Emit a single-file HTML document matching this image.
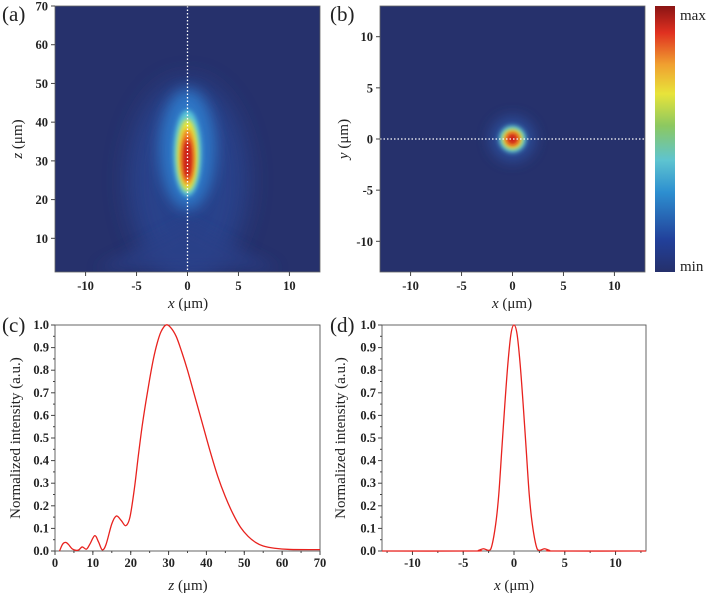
<!DOCTYPE html>
<html><head><meta charset="utf-8"><style>
html,body{margin:0;padding:0;background:#fff;width:708px;height:595px;overflow:hidden}
</style></head><body>
<svg id="fig" width="708" height="595" viewBox="0 0 708 595" xmlns="http://www.w3.org/2000/svg" font-family="'Liberation Serif', 'Times New Roman', serif">
<defs>
<filter id="b2" x="-50%" y="-50%" width="200%" height="200%"><feGaussianBlur stdDeviation="2.5"/></filter>
<filter id="b6" x="-50%" y="-50%" width="200%" height="200%"><feGaussianBlur stdDeviation="7"/></filter>
<filter id="b12" x="-50%" y="-50%" width="200%" height="200%"><feGaussianBlur stdDeviation="12"/></filter>
<linearGradient id="jet" x1="0" y1="1" x2="0" y2="0">
<stop offset="0" stop-color="#25306b"/><stop offset="0.12" stop-color="#22409a"/><stop offset="0.3" stop-color="#2d8fd0"/>
<stop offset="0.42" stop-color="#5ec4d0"/><stop offset="0.55" stop-color="#8cc860"/><stop offset="0.67" stop-color="#e8e43a"/>
<stop offset="0.78" stop-color="#f0a030"/><stop offset="0.9" stop-color="#e03020"/><stop offset="1" stop-color="#8a1414"/>
</linearGradient>
<clipPath id="ca"><rect x="55" y="6" width="265" height="266"/></clipPath>
<clipPath id="cb"><rect x="380" y="6" width="265" height="266"/></clipPath>
</defs>
<g id="root"></g>
</svg>
<script>
// ---- data ----
const zProfileZ=[1.2,2,2.8,3.5,4.5,5.5,6.3,7.2,8.3,9.2,10.5,11.5,12.5,13.5,15,16.2,17.5,18.7,19.8,21,22,23,24,25,26,27,28,29.3,30.5,32,33.5,35,37,39,41,43,45,47,49,51,53,55,58,62,70];
const zProfileI=[0,0.03,0.038,0.03,0.01,0.003,0.005,0.018,0.008,0.03,0.068,0.04,0.005,0.03,0.12,0.155,0.135,0.112,0.15,0.28,0.42,0.55,0.66,0.76,0.85,0.92,0.97,1.0,0.99,0.95,0.88,0.80,0.68,0.56,0.44,0.33,0.24,0.165,0.105,0.065,0.038,0.022,0.012,0.007,0.006];
const xProfileX=[-13,-4,-3.5,-3,-2.5,-2.2,-1.8,-1.5,-1.2,-0.9,-0.6,-0.3,0,0.3,0.6,0.9,1.2,1.5,1.8,2.2,2.5,3,3.5,4,13];
const xProfileI=[0,0,0.003,0.01,0.003,0.02,0.12,0.25,0.45,0.65,0.83,0.96,1.0,0.96,0.83,0.65,0.45,0.25,0.12,0.02,0.003,0.01,0.003,0,0];
const zTicks=[10,20,30,40,50,60,70];
const symTicks=[-10,-5,0,5,10];
const cZTicks=[0,10,20,30,40,50,60,70];
const intTicks=[0,0.1,0.2,0.3,0.4,0.5,0.6,0.7,0.8,0.9,1.0];

const NS="http://www.w3.org/2000/svg";
const root=document.getElementById('root');
const FONT="'Liberation Serif', 'Times New Roman', serif";
function mk(tag,attrs,parent){const e=document.createElementNS(NS,tag);for(const k in attrs)e.setAttribute(k,attrs[k]);
 if(tag==='text'){e.setAttribute('font-family',FONT);e.setAttribute('fill','#222');
  const c=attrs['class'];if(c==='tk'){e.setAttribute('font-size','12.5');e.setAttribute('font-weight','bold');}
  else if(c==='ttl'){e.setAttribute('font-size','15');}else if(c==='pl'){e.setAttribute('font-size','21');}}
 (parent||root).appendChild(e);return e;}
function lin(d0,d1,r0,r1){return v=>r0+(v-d0)/(d1-d0)*(r1-r0);}
function smooth(pts){let d=`M${pts[0][0]},${pts[0][1]}`;for(let i=0;i<pts.length-1;i++){const p0=pts[i-1]||pts[i],p1=pts[i],p2=pts[i+1],p3=pts[i+2]||p2;
d+=` C${p1[0]+(p2[0]-p0[0])/6},${p1[1]+(p2[1]-p0[1])/6} ${p2[0]-(p3[0]-p1[0])/6},${p2[1]-(p3[1]-p1[1])/6} ${p2[0]},${p2[1]}`;}return d;}

// ---- panel a ----
const ax=lin(-13,13,55,320), az=lin(70,1.3,6,272);
const ga=mk('g',{'clip-path':'url(#ca)'});
mk('rect',{x:55,y:6,width:265,height:266,fill:'#26316c'},ga);
mk('ellipse',{cx:ax(0),cy:az(25),rx:60,ry:100,fill:'#2c4a98',opacity:0.7,filter:'url(#b12)'},ga);
mk('path',{d:`M${ax(-9)},${az(2)} L${ax(0)},${az(14)} L${ax(9)},${az(2)} Z`,fill:'#2b3f88',opacity:0.7,filter:'url(#b6)'},ga);
mk('ellipse',{cx:ax(0),cy:az(33),rx:28,ry:60,fill:'#2f7fd0',opacity:0.85,filter:'url(#b6)'},ga);
mk('ellipse',{cx:ax(0),cy:az(32),rx:14,ry:43,fill:'#5cc8d8',filter:'url(#b2)'},ga);
mk('ellipse',{cx:ax(0),cy:az(31.5),rx:10.5,ry:36,fill:'#e6e43a',filter:'url(#b2)'},ga);
mk('ellipse',{cx:ax(0),cy:az(31),rx:7,ry:28,fill:'#ee7a22',filter:'url(#b2)'},ga);
mk('ellipse',{cx:ax(0),cy:az(30.5),rx:4.5,ry:20,fill:'#c81818',filter:'url(#b2)'},ga);
let l=mk('line',{x1:ax(0),y1:6,x2:ax(0),y2:272,stroke:'#fff','stroke-width':1.3,'stroke-dasharray':'1.5,2'});

mk('rect',{x:55,y:6,width:265,height:266,fill:'none',stroke:'#666','stroke-width':0.8});
zTicks.forEach(v=>{mk('line',{x1:51,x2:55,y1:az(v),y2:az(v),stroke:'#444'});const t=mk('text',{x:48,y:az(v)+4.5,'text-anchor':'end',class:'tk'});t.textContent=v;});
symTicks.forEach(v=>{mk('line',{x1:ax(v),x2:ax(v),y1:272,y2:276,stroke:'#444'});const t=mk('text',{x:ax(v),y:290,'text-anchor':'middle',class:'tk'});t.textContent=v;});

// ---- panel b ----
const bx=lin(-13,13,380,645), by=lin(13,-13,6,272);
const gb=mk('g',{'clip-path':'url(#cb)'});
mk('rect',{x:380,y:6,width:265,height:266,fill:'#26316c'},gb);
mk('circle',{cx:bx(0),cy:by(0),r:22,fill:'#2d5cb0',opacity:0.7,filter:'url(#b6)'},gb);
mk('circle',{cx:bx(0),cy:by(0),r:13.5,fill:'#5cc8d8',filter:'url(#b2)'},gb);
mk('circle',{cx:bx(0),cy:by(0),r:10,fill:'#e6e43a',filter:'url(#b2)'},gb);
mk('circle',{cx:bx(0),cy:by(0),r:7.5,fill:'#ee7a22',filter:'url(#b2)'},gb);
mk('circle',{cx:bx(0),cy:by(0),r:5,fill:'#c81818',filter:'url(#b2)'},gb);
l=mk('line',{x1:380,y1:by(0),x2:645,y2:by(0),stroke:'#fff','stroke-width':1.3,'stroke-dasharray':'1.5,2'});

mk('rect',{x:380,y:6,width:265,height:266,fill:'none',stroke:'#666','stroke-width':0.8});
symTicks.forEach(v=>{mk('line',{x1:376,x2:380,y1:by(v),y2:by(v),stroke:'#444'});const t=mk('text',{x:373,y:by(v)+4.5,'text-anchor':'end',class:'tk'});t.textContent=v;});
symTicks.forEach(v=>{mk('line',{x1:bx(v),x2:bx(v),y1:272,y2:276,stroke:'#444'});const t=mk('text',{x:bx(v),y:290,'text-anchor':'middle',class:'tk'});t.textContent=v;});
const cb=mk('rect',{x:655,y:6,width:20,height:266,fill:'url(#jet)'});
let t=mk('text',{x:680,y:20,class:'ttl'});t.textContent='max';
t=mk('text',{x:680,y:271,class:'ttl'});t.textContent='min';

// ---- line panels ----
function linePanel(x0,x1,dom0,dom1,xt,minorStep,xs,ys,name){
  const sx=lin(dom0,dom1,x0,x1), sy=lin(0,1,551,325);
  const g=mk('g',{});
  mk('rect',{x:x0,y:325,width:x1-x0,height:226,fill:'none',stroke:'#555','stroke-width':0.9},g);
  intTicks.forEach(v=>{mk('line',{x1:x0-4,x2:x0,y1:sy(v),y2:sy(v),stroke:'#444'},g);const tt=mk('text',{x:x0-6,y:sy(v)+4,'text-anchor':'end',class:'tk'},g);tt.textContent=v.toFixed(1);});
  for(let v=0.05;v<1;v+=0.1)mk('line',{x1:x0-2,x2:x0,y1:sy(v),y2:sy(v),stroke:'#444'},g);
  xt.forEach(v=>{mk('line',{x1:sx(v),x2:sx(v),y1:551,y2:555,stroke:'#444'},g);const tt=mk('text',{x:sx(v),y:567,'text-anchor':'middle',class:'tk'},g);tt.textContent=v;});
  for(let v=Math.ceil(dom0/minorStep)*minorStep;v<=dom1;v+=minorStep)mk('line',{x1:sx(v),x2:sx(v),y1:551,y2:553,stroke:'#444'},g);
  const p=mk('path',{d:smooth(xs.map((x,i)=>[sx(x),sy(ys[i])])),fill:'none',stroke:'#e8221e','stroke-width':1.3},g);
  
}
linePanel(55,320,0,70,cZTicks,5,zProfileZ,zProfileI,'z-profile-plot');
linePanel(382,646,-13,13,symTicks,2.5,xProfileX,xProfileI,'x-profile-plot');

// ---- titles ----
function txt(s,attrs,name,cls){attrs['class']=cls;const e=mk('text',attrs);e.innerHTML=s;return e;}
txt('<tspan font-style="italic">x</tspan> (μm)',{x:188,y:308,'text-anchor':'middle'},'x-axis-title-a','ttl');
txt('<tspan font-style="italic">x</tspan> (μm)',{x:512,y:308,'text-anchor':'middle'},'x-axis-title-b','ttl');
txt('<tspan font-style="italic">z</tspan> (μm)',{x:188,y:590,'text-anchor':'middle'},'x-axis-title-c','ttl');
txt('<tspan font-style="italic">x</tspan> (μm)',{x:514,y:590,'text-anchor':'middle'},'x-axis-title-d','ttl');
txt('<tspan font-style="italic">z</tspan> (μm)',{x:22,y:139,'text-anchor':'middle',transform:'rotate(-90 22 139)'},'y-axis-title-a','ttl');
txt('<tspan font-style="italic">y</tspan> (μm)',{x:348,y:139,'text-anchor':'middle',transform:'rotate(-90 348 139)'},'y-axis-title-b','ttl');
txt('Normalized intensity (a.u.)',{x:20,y:438,'text-anchor':'middle',transform:'rotate(-90 20 438)'},'y-axis-title-c','ttl');
txt('Normalized intensity (a.u.)',{x:345,y:438,'text-anchor':'middle',transform:'rotate(-90 345 438)'},'y-axis-title-d','ttl');
txt('(a)',{x:2,y:21},'panel-label-a','pl');
txt('(b)',{x:330,y:21},'panel-label-b','pl');
txt('(c)',{x:2,y:332},'panel-label-c','pl');
txt('(d)',{x:330,y:332},'panel-label-d','pl');
</script>
</body></html>
